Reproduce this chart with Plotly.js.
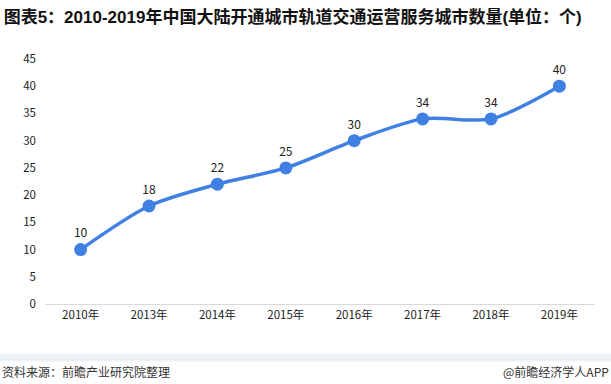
<!DOCTYPE html>
<html><head><meta charset="utf-8">
<script src="https://cdn.plot.ly/plotly-3.0.1.min.js"></script>
<style>body{margin:0;background:#fff}#c{width:611px;height:384px}</style>
</head><body><div id="c"></div>
<script>
const categories = ["2010年","2013年","2014年","2015年","2016年","2017年","2018年","2019年"];
const values = [10,18,22,25,30,34,34,40];
const yTicks = [0,5,10,15,20,25,30,35,40,45];

const font = "Microsoft YaHei, 'Noto Sans CJK SC', sans-serif";
const titleFont = "'Liberation Sans', 'Noto Sans CJK SC', sans-serif";
Plotly.newPlot('c', [{
  x: categories, y: values, type: 'scatter', mode: 'lines+markers+text',
  line: {color: '#3F80E2', width: 3.5, shape: 'spline', smoothing: 0.8},
  marker: {color: '#3F80E2', size: 13},
  text: values.map(String), textposition: 'top center',
  textfont: {family: font, size: 12, color: '#222'},
  cliponaxis: false, hoverinfo: 'none'
}], {
  width: 611, height: 384,
  margin: {l: 45, r: 16, t: 59, b: 80},
  paper_bgcolor: '#fff', plot_bgcolor: '#fff',
  showlegend: false,
  title: {text: '<b>图表5：2010-2019年中国大陆开通城市轨道交通运营服务城市数量(单位：个)</b>',
    x: 0.006, xanchor: 'left', y: 0.955, yanchor: 'middle',
    font: {family: titleFont, size: 17, color: '#111'}},
  xaxis: {type: 'category', showgrid: false, zeroline: false, showline: true,
    linecolor: '#d9d9d9', linewidth: 1, ticks: '', 
    tickfont: {family: font, size: 11.5, color: '#222'}, fixedrange: true},
  yaxis: {range: [0, 45], tickvals: yTicks, showgrid: false, zeroline: false,
    showline: false, ticks: '', ticklen: 0, ticklabelstandoff: 8,
    tickfont: {family: font, size: 11.5, color: '#222'}, fixedrange: true},
  shapes: [{type: 'rect', xref: 'paper', yref: 'paper', x0: -0.1, x1: 1.05,
    y0: -0.235, y1: -0.205, fillcolor: '#eef1f6', line: {width: 0}, layer: 'below'}],
  annotations: [
    {text: '资料来源：前瞻产业研究院整理', xref: 'paper', yref: 'paper', x: -0.082, y: -0.275,
      xanchor: 'left', yanchor: 'middle', showarrow: false,
      font: {family: font, size: 12, color: '#333'}},
    {text: '@前瞻经济学人APP', xref: 'paper', yref: 'paper', x: 1.029, y: -0.275,
      xanchor: 'right', yanchor: 'middle', showarrow: false,
      font: {family: font, size: 12, color: '#333'}}
  ]
}, {displayModeBar: false, staticPlot: true});
</script></body></html>
